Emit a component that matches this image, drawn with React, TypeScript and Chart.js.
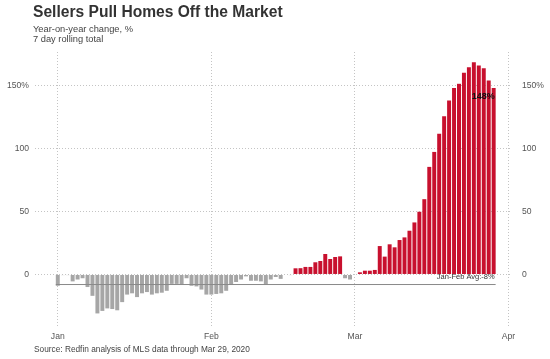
import React, { useEffect, useRef } from 'react';
import { Chart, registerables } from 'chart.js';

Chart.register(...registerables);

// ---- text ----
const title = 'Sellers Pull Homes Off the Market';
const subtitleLines = ['Year-on-year change, %', '7 day rolling total'];
const source = 'Source: Redfin analysis of MLS data through Mar 29, 2020';

// ---- data: daily values, Jan 1 2020 .. Mar 29 2020 (day index 0 = Jan 1) ----
const values = [
  -9, -0.5, -0.5, -5.5, -4, -3, -10, -17, -31, -29,
  -27, -27.5, -28.5, -22, -16, -15, -18, -15, -14, -16,
  -15, -14.5, -13, -7.5, -7.5, -8, -3, -9, -9.5, -12,
  -16, -16, -15.5, -15, -13, -8, -6, -4, -1.5, -5,
  -5, -5.5, -8, -4, -2, -3.5, 0, -0.5,
  4.9, 5, 6, 6, 9.7, 10.7, 16.3, 12.3, 13.9, 14.4,
  -3, -4, 0, 1.7, 3, 3, 3.6, 22.6, 14.2, 24,
  21.6, 27.4, 29.5, 34.8, 41.4, 49.9, 59.9, 85.6, 97.5, 112,
  125.8, 138.5, 148.3, 151.7, 160.5, 164.9, 168.9, 166.3, 164.1, 154.4,
  148.3,
];
const days = values.map((_, i) => i);
const monthTicks = [0, 31, 60, 91];
const monthLabels = ['Jan', 'Feb', 'Mar', 'Apr'];
const yTicks = [0, 50, 100, 150];
const avgValue = -8;
const avgLabel = 'Jan-Feb Avg:-8%';
const lastLabel = '148%';

// ---- style ----
const FONT = "'Liberation Sans', Arial, Helvetica, sans-serif";
const RED = '#c8102e';
const GRAY = '#a6a6a6';
const GRID = '#c4c4c4';
const Y_MIN = -41;
const Y_MAX = 177;
const X_MIN = -4.6;
const X_MAX = 91.5;

const yTickLabel = (v: number) => (v === 150 ? '150%' : String(v));

const textPlugin = {
  id: 'texts',
  afterDatasetsDraw(chart: any) {
    const { ctx, scales } = chart;
    const x = scales.x;
    const y = scales.y;
    const lastX = x.getPixelForValue(days[days.length - 1] + 0.4);
    ctx.save();
    ctx.textAlign = 'right';
    ctx.textBaseline = 'alphabetic';
    ctx.font = `7.5px ${FONT}`;
    ctx.fillStyle = '#333';
    ctx.fillText(avgLabel, lastX - 1, y.getPixelForValue(avgValue) - 5.5);
    ctx.font = `bold 9px ${FONT}`;
    ctx.fillStyle = '#111';
    ctx.fillText(lastLabel, lastX - 1, y.getPixelForValue(values[values.length - 1]) + 11);
    ctx.restore();
  },
  afterDraw(chart: any) {
    const { ctx } = chart;
    ctx.save();
    ctx.textAlign = 'left';
    ctx.textBaseline = 'alphabetic';
    ctx.fillStyle = '#333';
    ctx.font = `bold 15.6px ${FONT}`;
    ctx.fillText(title, 33, 17);
    ctx.fillStyle = '#444';
    ctx.font = `9.3px ${FONT}`;
    ctx.fillText(subtitleLines[0], 33, 32);
    ctx.fillText(subtitleLines[1], 33, 42);
    ctx.font = `8.3px ${FONT}`;
    ctx.fillText(source, 34, 352);
    ctx.restore();
  },
};

export default function App() {
  const ref = useRef<HTMLCanvasElement | null>(null);

  useEffect(() => {
    if (!ref.current) return;
    const barData = days.map((d, i) => ({ x: d, y: values[i] }));
    const avgData = [
      { x: days[0] - 0.4, y: avgValue },
      { x: days[days.length - 1] + 0.4, y: avgValue },
    ];
    const tickFont = { family: FONT, size: 8.6 };
    const chart = new Chart(ref.current, {
      type: 'bar',
      data: {
        datasets: [
          {
            type: 'line',
            data: avgData,
            borderColor: '#8a8a8a',
            borderWidth: 1,
            pointRadius: 0,
            order: 0,
          } as any,
          {
            type: 'bar',
            data: barData,
            backgroundColor: values.map((v) => (v > 0 ? RED : GRAY)),
            borderWidth: 0,
            barPercentage: 0.8,
            categoryPercentage: 1,
            order: 1,
          } as any,
        ],
      },
      options: {
        responsive: false,
        animation: false,
        devicePixelRatio: 1,
        layout: { padding: { top: 52, left: 0, right: 0, bottom: 0 } },
        plugins: { legend: { display: false }, tooltip: { enabled: false }, title: { display: false } },
        scales: {
          x: {
            type: 'linear',
            offset: false,
            min: X_MIN,
            max: X_MAX,
            afterBuildTicks: (s: any) => {
              s.ticks = monthTicks.map((v) => ({ value: v }));
            },
            ticks: {
              autoSkip: false,
              maxRotation: 0,
              padding: 5,
              font: tickFont,
              color: '#555',
              callback: (v: any) => {
                const i = monthTicks.indexOf(Number(v));
                return i >= 0 ? monthLabels[i] : '';
              },
            },
            grid: { color: GRID, lineWidth: 1, drawTicks: false, offset: false },
            border: { display: false, dash: [1, 2] },
            afterFit: (s: any) => {
              s.height = 33;
            },
          },
          y: {
            type: 'linear',
            position: 'left',
            min: Y_MIN,
            max: Y_MAX,
            afterBuildTicks: (s: any) => {
              s.ticks = yTicks.map((v) => ({ value: v }));
            },
            ticks: { padding: 6, font: tickFont, color: '#555', callback: (v: any) => yTickLabel(Number(v)) },
            grid: { color: GRID, lineWidth: 1, drawTicks: false },
            border: { display: false, dash: [1, 2] },
            afterFit: (s: any) => {
              s.width = 35;
            },
          },
          y2: {
            type: 'linear',
            position: 'right',
            min: Y_MIN,
            max: Y_MAX,
            afterBuildTicks: (s: any) => {
              s.ticks = yTicks.map((v) => ({ value: v }));
            },
            ticks: { padding: 11, font: tickFont, color: '#555', callback: (v: any) => yTickLabel(Number(v)) },
            grid: { display: false, drawTicks: false },
            border: { display: false },
            afterFit: (s: any) => {
              s.width = 39;
            },
          },
        },
      } as any,
      plugins: [textPlugin],
    });
    return () => chart.destroy();
  }, []);

  return (
    <div style={{ position: 'fixed', left: 0, top: 0, width: 550, height: 359, background: '#fff' }}>
      <canvas ref={ref} width={550} height={359} style={{ display: 'block' }} />
    </div>
  );
}
